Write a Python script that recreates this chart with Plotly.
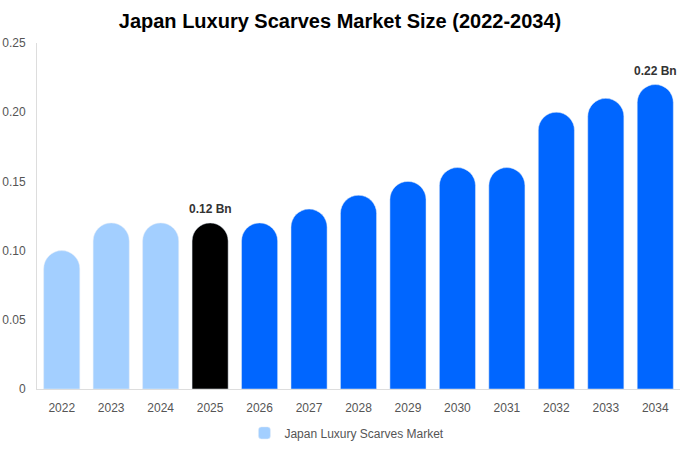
import plotly.graph_objects as go

# chart data
years = ["2022", "2023", "2024", "2025", "2026", "2027", "2028",
         "2029", "2030", "2031", "2032", "2033", "2034"]
market_size = [0.10, 0.12, 0.12, 0.12, 0.12, 0.13, 0.14,
               0.15, 0.16, 0.16, 0.20, 0.21, 0.22]
bar_colors = ["#a3cfff", "#a3cfff", "#a3cfff", "#000000"] + ["#0066ff"] * 9
labelled = {"2025": "0.12 Bn", "2034": "0.22 Bn"}
y_ticks = [0, 0.05, 0.10, 0.15, 0.20, 0.25]
y_tick_text = ["0", "0.05", "0.10", "0.15", "0.20", "0.25"]

fig = go.Figure()
fig.add_trace(go.Bar(
    x=years,
    y=market_size,
    marker=dict(color=bar_colors, cornerradius="50%"),
    name="Japan Luxury Scarves Market",
    showlegend=True,
))

# year strings look numeric, so annotations use the category index
for yr, txt in labelled.items():
    i = years.index(yr)
    fig.add_annotation(
        x=i, y=market_size[i], text="<b>" + txt + "</b>",
        showarrow=False, yanchor="bottom", yshift=5,
        font=dict(size=12, color="#333333"),
    )

fig.update_layout(
    width=680, height=450,
    paper_bgcolor="white", plot_bgcolor="white",
    font=dict(family="Liberation Sans, Arial, sans-serif", color="#555555", size=12),
    title=dict(text="<b>Japan Luxury Scarves Market Size (2022-2034)</b>",
               x=0.5, xanchor="center", y=0.953, yanchor="middle",
               font=dict(size=20, color="#000000")),
    margin=dict(l=37, r=0, t=43, b=61),
    bargap=0.27,
    xaxis=dict(type="category", showline=True, linecolor="#dddddd",
               showgrid=False, ticks="", automargin=False, ticklabelstandoff=8),
    yaxis=dict(range=[0, 0.25], tickvals=y_ticks, ticktext=y_tick_text,
               showline=True, linecolor="#dddddd", showgrid=False, zeroline=False,
               ticks="", ticklabelstandoff=8, automargin=False),
    legend=dict(orientation="h", x=0.482, xanchor="center",
                yref="container", y=0.038, yanchor="middle",
                font=dict(size=12, color="#555555")),
)

# drop the default 8px body margin so the figure sits at the page corner
fig.write_html("out.html", config={"displayModeBar": False},
               post_script="document.body.style.margin='0';")
